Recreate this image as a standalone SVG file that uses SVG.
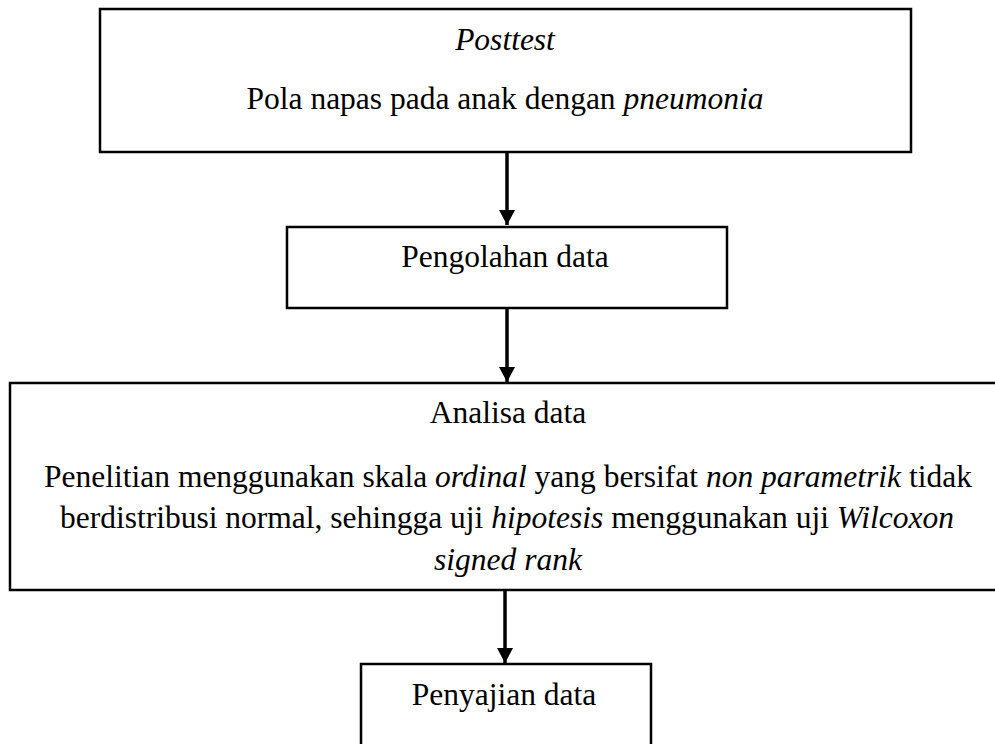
<svg xmlns="http://www.w3.org/2000/svg" width="995" height="744" viewBox="0 0 995 744">
  <style>
    .box { fill: #ffffff; stroke: #000000; stroke-width: 2.5; }
    .t { font-family: "Liberation Serif", "Times New Roman", serif; font-size: 31.5px; fill: #000000; text-anchor: middle; }
    .i { font-style: italic; }
    .conn { stroke: #000000; stroke-width: 3.5; fill: none; }
  </style>
  <defs>
    <marker id="ah" markerUnits="userSpaceOnUse" markerWidth="16" markerHeight="16" viewBox="0 0 16 16" refX="15" refY="8" orient="auto">
      <path d="M0,0 L15,8 L0,16 Z" fill="#000000"/>
    </marker>
  </defs>

  <g id="node-posttest">
    <rect class="box" x="100" y="9" width="811" height="143"/>
    <text class="t i" x="505" y="50">Posttest</text>
    <text class="t" x="505" y="109">Pola napas pada anak dengan <tspan class="i">pneumonia</tspan></text>
  </g>

  <g id="node-pengolahan">
    <rect class="box" x="287" y="227" width="440" height="81"/>
    <text class="t" x="505" y="267">Pengolahan data</text>
  </g>

  <g id="node-analisa">
    <rect class="box" x="10" y="383" width="1000" height="207"/>
    <text class="t" x="508" y="423">Analisa data</text>
    <text class="t" x="508" y="487">Penelitian menggunakan skala <tspan class="i">ordinal</tspan> yang bersifat <tspan class="i">non parametrik</tspan> tidak</text>
    <text class="t" x="507" y="528">berdistribusi normal, sehingga uji <tspan class="i">hipotesis</tspan> menggunakan uji <tspan class="i">Wilcoxon</tspan></text>
    <text class="t i" x="508" y="570">signed rank</text>
  </g>

  <g id="node-penyajian">
    <rect class="box" x="361" y="664" width="290" height="100"/>
    <text class="t" x="504" y="705">Penyajian data</text>
  </g>

  <g id="connectors">
    <line class="conn" x1="507" y1="153" x2="507" y2="225" marker-end="url(#ah)"/>
    <line class="conn" x1="507" y1="309" x2="507" y2="382" marker-end="url(#ah)"/>
    <line class="conn" x1="505" y1="591" x2="505" y2="663" marker-end="url(#ah)"/>
  </g>
</svg>
